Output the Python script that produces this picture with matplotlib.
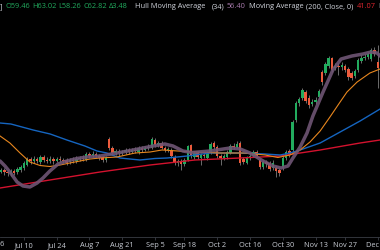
import matplotlib.pyplot as plt

# daily candles, trading-day index 0 = Jun 26
opens = [35.31, 35.49, 35.31, 35.67, 35.31, 34.95, 35.49, 35.31, 35.67, 36.03,
         36.57, 37.65, 37.29, 37.65, 37.11, 38.01, 37.47, 37.29, 37.65, 37.29,
         37.65, 37.47, 37.47, 37.11, 37.47, 37.29, 37.65, 37.83, 37.47, 38.55,
         38.19, 38.55, 38.19, 38.01, 37.47, 41.25, 39.63, 38.73, 39.09, 38.73,
         38.91, 39.27, 38.91, 39.27, 38.91, 39.63, 39.27, 39.63, 39.63, 41.07,
         40.17, 40.53, 39.63, 39.27, 39.27, 38.01, 36.93, 37.29, 36.75, 37.47,
         40.17, 38.01, 38.73, 37.83, 38.37, 37.83, 38.73, 40.53, 39.81, 38.19,
         37.83, 38.01, 38.73, 39.99, 39.81, 40.53, 37.65, 36.93, 37.83, 38.19,
         38.91, 37.47, 36.21, 37.11, 36.93, 36.03, 36.03, 35.67, 36.03, 37.83,
         39.09, 39.27, 44.67, 47.73, 48.63, 49.71, 48.63, 47.55, 47.91, 48.81,
         53.31, 53.13, 54.39, 55.83, 54.03, 54.39, 54.21, 54.39, 53.85, 53.13,
         52.59, 53.67, 55.29, 55.83, 56.01, 55.65, 57.27, 55.11]
highs = [35.85, 35.85, 36.03, 36.03, 35.67, 35.85, 35.85, 36.21, 36.57, 37.29,
         38.01, 38.01, 38.19, 38.01, 38.37, 38.37, 38.01, 38.19, 38.01, 38.01,
         38.19, 37.83, 37.83, 37.83, 38.01, 38.19, 38.19, 38.37, 38.91, 38.91,
         39.09, 38.91, 38.55, 38.19, 38.19, 41.61, 39.99, 39.45, 39.45, 39.27,
         39.63, 39.63, 39.63, 39.81, 39.99, 39.99, 39.99, 40.35, 41.61, 41.43,
         40.89, 40.89, 39.99, 39.81, 39.63, 38.37, 37.65, 37.65, 37.83, 40.17,
         40.35, 39.09, 39.09, 38.73, 38.73, 39.09, 40.71, 40.89, 40.17, 38.55,
         38.55, 39.27, 40.35, 40.53, 40.89, 40.89, 38.01, 38.19, 38.55, 39.27,
         39.27, 37.83, 37.47, 37.47, 37.29, 37.47, 36.39, 36.03, 38.19, 39.27,
         39.45, 44.67, 48.09, 48.81, 50.43, 50.07, 49.17, 48.45, 48.81, 50.25,
         53.67, 55.11, 56.19, 56.01, 54.93, 54.93, 55.11, 54.75, 54.21, 53.49,
         53.85, 55.83, 56.37, 56.55, 56.91, 57.63, 57.81, 58.17]
lows = [34.95, 34.95, 35.13, 34.77, 34.59, 34.59, 34.77, 34.95, 35.31, 35.67,
        36.39, 36.75, 36.93, 36.93, 36.75, 37.11, 36.93, 36.93, 36.75, 37.11,
        37.11, 36.93, 36.57, 36.75, 36.93, 36.93, 37.29, 37.29, 37.29, 37.83,
        38.01, 37.83, 37.47, 37.11, 37.11, 39.27, 38.37, 38.37, 38.19, 38.37,
        38.55, 38.55, 38.73, 38.73, 38.55, 38.91, 39.09, 39.27, 39.45, 39.81,
        39.81, 39.45, 38.91, 38.91, 37.83, 36.57, 36.39, 35.67, 36.39, 37.29,
        37.83, 37.65, 37.65, 36.57, 37.83, 37.47, 38.55, 39.45, 37.83, 36.57,
        37.47, 37.65, 38.55, 39.45, 39.63, 36.57, 36.75, 36.75, 37.47, 38.01,
        37.83, 35.85, 35.85, 36.21, 35.49, 35.67, 34.41, 34.59, 35.67, 37.47,
        38.01, 38.91, 44.31, 47.19, 48.27, 47.73, 46.83, 47.19, 47.55, 48.45,
        50.97, 52.77, 54.03, 53.31, 53.67, 52.77, 53.67, 53.31, 51.87, 51.87,
        52.23, 53.31, 54.93, 55.47, 55.65, 55.29, 56.19, 50.43]
closes = [35.49, 35.31, 35.67, 35.31, 35.13, 35.49, 35.13, 35.85, 36.21, 36.93,
          37.65, 37.29, 37.65, 37.29, 38.01, 37.47, 37.29, 37.65, 37.29, 37.65,
          37.47, 37.29, 36.93, 37.47, 37.29, 37.65, 37.83, 37.65, 38.55, 38.19,
          38.55, 38.19, 37.83, 37.47, 37.83, 39.63, 38.73, 39.09, 38.73, 38.91,
          39.27, 38.91, 39.27, 39.09, 39.63, 39.27, 39.63, 39.81, 41.25, 40.17,
          40.53, 39.63, 39.27, 39.45, 38.19, 36.93, 37.29, 36.75, 37.47, 39.99,
          38.19, 38.73, 38.01, 38.37, 38.19, 38.73, 40.35, 39.81, 38.19, 37.83,
          38.19, 38.91, 39.99, 39.81, 40.35, 36.93, 37.11, 37.83, 38.19, 38.91,
          38.19, 36.21, 37.11, 36.75, 35.85, 36.93, 35.49, 35.13, 37.83, 38.91,
          38.37, 44.31, 47.73, 48.45, 50.07, 48.09, 47.37, 47.91, 48.27, 49.89,
          51.51, 54.75, 55.83, 53.67, 54.39, 54.21, 54.57, 53.67, 52.41, 52.23,
          53.49, 55.47, 55.83, 56.01, 56.55, 57.27, 56.55, 54.03]

# indicator lines (x in trading-day index)
hull_x = [1.7, 3.2, 4.7, 6.9, 8.7, 10.8, 13, 14.8, 16.9, 19.4, 22.1, 25.2, 28.2,
          32.2, 37.4, 42.3, 48.4, 52, 54.5, 57.5, 60.3, 65.8, 71.9, 75, 78, 82,
          85, 87.5, 89.6, 91.1, 93.3, 95.4, 97.2, 100.3, 103.3, 105.8, 109.1,
          112.5, 114.9, 116.8, 117.7]
hull_y = [37.29, 36.39, 35.31, 33.51, 32.79, 32.61, 33.33, 34.23, 35.49, 36.75,
          37.29, 37.74, 38.01, 38.19, 38.73, 39.27, 39.99, 40.35, 39.99, 39.09,
          38.82, 39.09, 39.63, 39.45, 38.73, 37.29, 36.39, 36.03, 36.39, 37.83,
          39.81, 42.33, 45.39, 49.71, 53.67, 55.65, 56.19, 56.55, 56.91, 56.73,
          56.19]
ma20_x = [1.7, 4.7, 7.8, 10.8, 13.9, 16.9, 20, 23, 26.1, 29.2, 32.2, 37.4, 42.9,
          47.5, 51.1, 56, 61.2, 68.8, 76.5, 82.6, 86.5, 90.2, 93.3, 96.3, 99.4,
          102.4, 105.5, 107.6, 110.7, 114.6, 117.7]
ma20_y = [41.79, 40.53, 38.73, 37.11, 36.48, 36.30, 36.57, 36.93, 37.29, 37.65,
          37.83, 38.01, 38.73, 38.91, 39.27, 39.09, 38.91, 38.73, 38.73, 38.37,
          37.92, 38.37, 39.27, 40.71, 42.69, 45.21, 47.91, 49.71, 51.51, 53.13,
          53.85]
ma50_x = [1.7, 5, 11.8, 17, 22.1, 27.6, 31.3, 34.3, 38.3, 44.4, 49, 52.7, 58.8,
          65.8, 74.9, 82.6, 87.2, 90.2, 93.3, 99.4, 105.5, 111.6, 117.7]
ma50_y = [44.13, 43.95, 42.87, 42.15, 41.07, 39.99, 39.09, 38.73, 37.83, 37.47,
          37.74, 37.83, 38.19, 38.73, 38.73, 38.55, 38.37, 38.73, 39.27, 40.53,
          42.51, 44.49, 46.65]
ma200_x = [1.7, 16.9, 32.2, 47.5, 61.2, 75, 87.2, 99.4, 111.6, 117.7]
ma200_y = [32.43, 33.87, 35.31, 36.57, 37.47, 37.83, 38.19, 39.27, 40.53, 41.07]

tick_idx = [0, 9, 19, 29, 39, 49, 58, 68, 78, 88, 98, 107, 117]
tick_labels = ["Jun 26", "Jul 10", "Jul 24", "Aug 7", "Aug 21", "Sep 5", "Sep 18",
               "Oct 2", "Oct 16", "Oct 30", "Nov 13", "Nov 27", "Dec 11"]

UP = "#22ab5e"
DOWN = "#ec5b3c"
TXT = "#d1d4dc"

fig = plt.figure(figsize=(3.8, 2.5), dpi=100, facecolor="black")
ax = fig.add_axes([0, 13 / 250, 1, 237 / 250])
ax.set_facecolor("black")

# candles
idx = list(range(len(closes)))
cols = [UP if c >= o else DOWN for o, c in zip(opens, closes)]
ax.vlines(idx, lows, highs, color="#7d7d7d", lw=0.6, zorder=1)
bottoms = [min(o, c) for o, c in zip(opens, closes)]
heights = [max(abs(c - o), 0.12) for o, c in zip(opens, closes)]
ax.bar(idx, heights, bottom=bottoms, width=0.74, color=cols, lw=0, zorder=2)

# indicators
ax.plot(ma200_x, ma200_y, color="#d3122e", lw=1.0, zorder=3)
ax.plot(ma50_x, ma50_y, color="#1565c0", lw=1.0, zorder=3)
ax.plot(ma20_x, ma20_y, color="#e8871e", lw=0.8, zorder=4)
ax.plot(hull_x, hull_y, color="#6f5574", lw=2.5, alpha=0.9, zorder=5,
        solid_capstyle="round")

ax.set_xlim(1.68, 117.68)
ax.set_ylim(23.61, 66.27)

for s in ["top", "left", "right"]:
    ax.spines[s].set_visible(False)
ax.spines["bottom"].set_color("#3a3d45")
ax.spines["bottom"].set_linewidth(0.6)
ax.set_yticks([])
ax.set_xticks(tick_idx[1:])
ax.set_xticklabels(tick_labels[1:])
ax.tick_params(axis="x", colors="#3a3d45", length=2, width=0.6, pad=1.5,
               labelsize=5.3, labelcolor="#c8ccd4")
for lbl in ax.get_xticklabels():
    lbl.set_fontfamily("Open Sans")
# first date label sits left of the visible range
ax.text(tick_idx[0], -0.015, tick_labels[0], transform=ax.get_xaxis_transform(),
        ha="center", va="top", fontsize=5.3, color="#c8ccd4", family="Open Sans",
        clip_on=False)

# legend line at the top, pieces laid out one after another (gap in px)
legend_parts = [
    ("]", TXT, 0), ("O59.46", UP, 3), ("H63.02", UP, 2), ("L58.26", UP, 2),
    ("C62.82", UP, 2), ("Δ3.48", UP, 2),
    ("Hull Moving Average", TXT, 7), ("(34)", TXT, 6), ("56.40", "#a77aac", 3),
    ("Moving Average", TXT, 3), ("(200, Close, 0)", TXT, 3),
    ("41.07", "#e0262f", 3), ("Moving", TXT, 3),
]
renderer = fig.canvas.get_renderer()
xpos = 0.0
for txt, col, gap in legend_parts:
    xpos += gap
    t = fig.text(xpos / 380, 1 - 7 / 250, txt, color=col, fontsize=5.3,
                 family="Open Sans", ha="left", va="center")
    xpos += t.get_window_extent(renderer).width

fig.savefig("out.png", dpi=100, facecolor="black")
